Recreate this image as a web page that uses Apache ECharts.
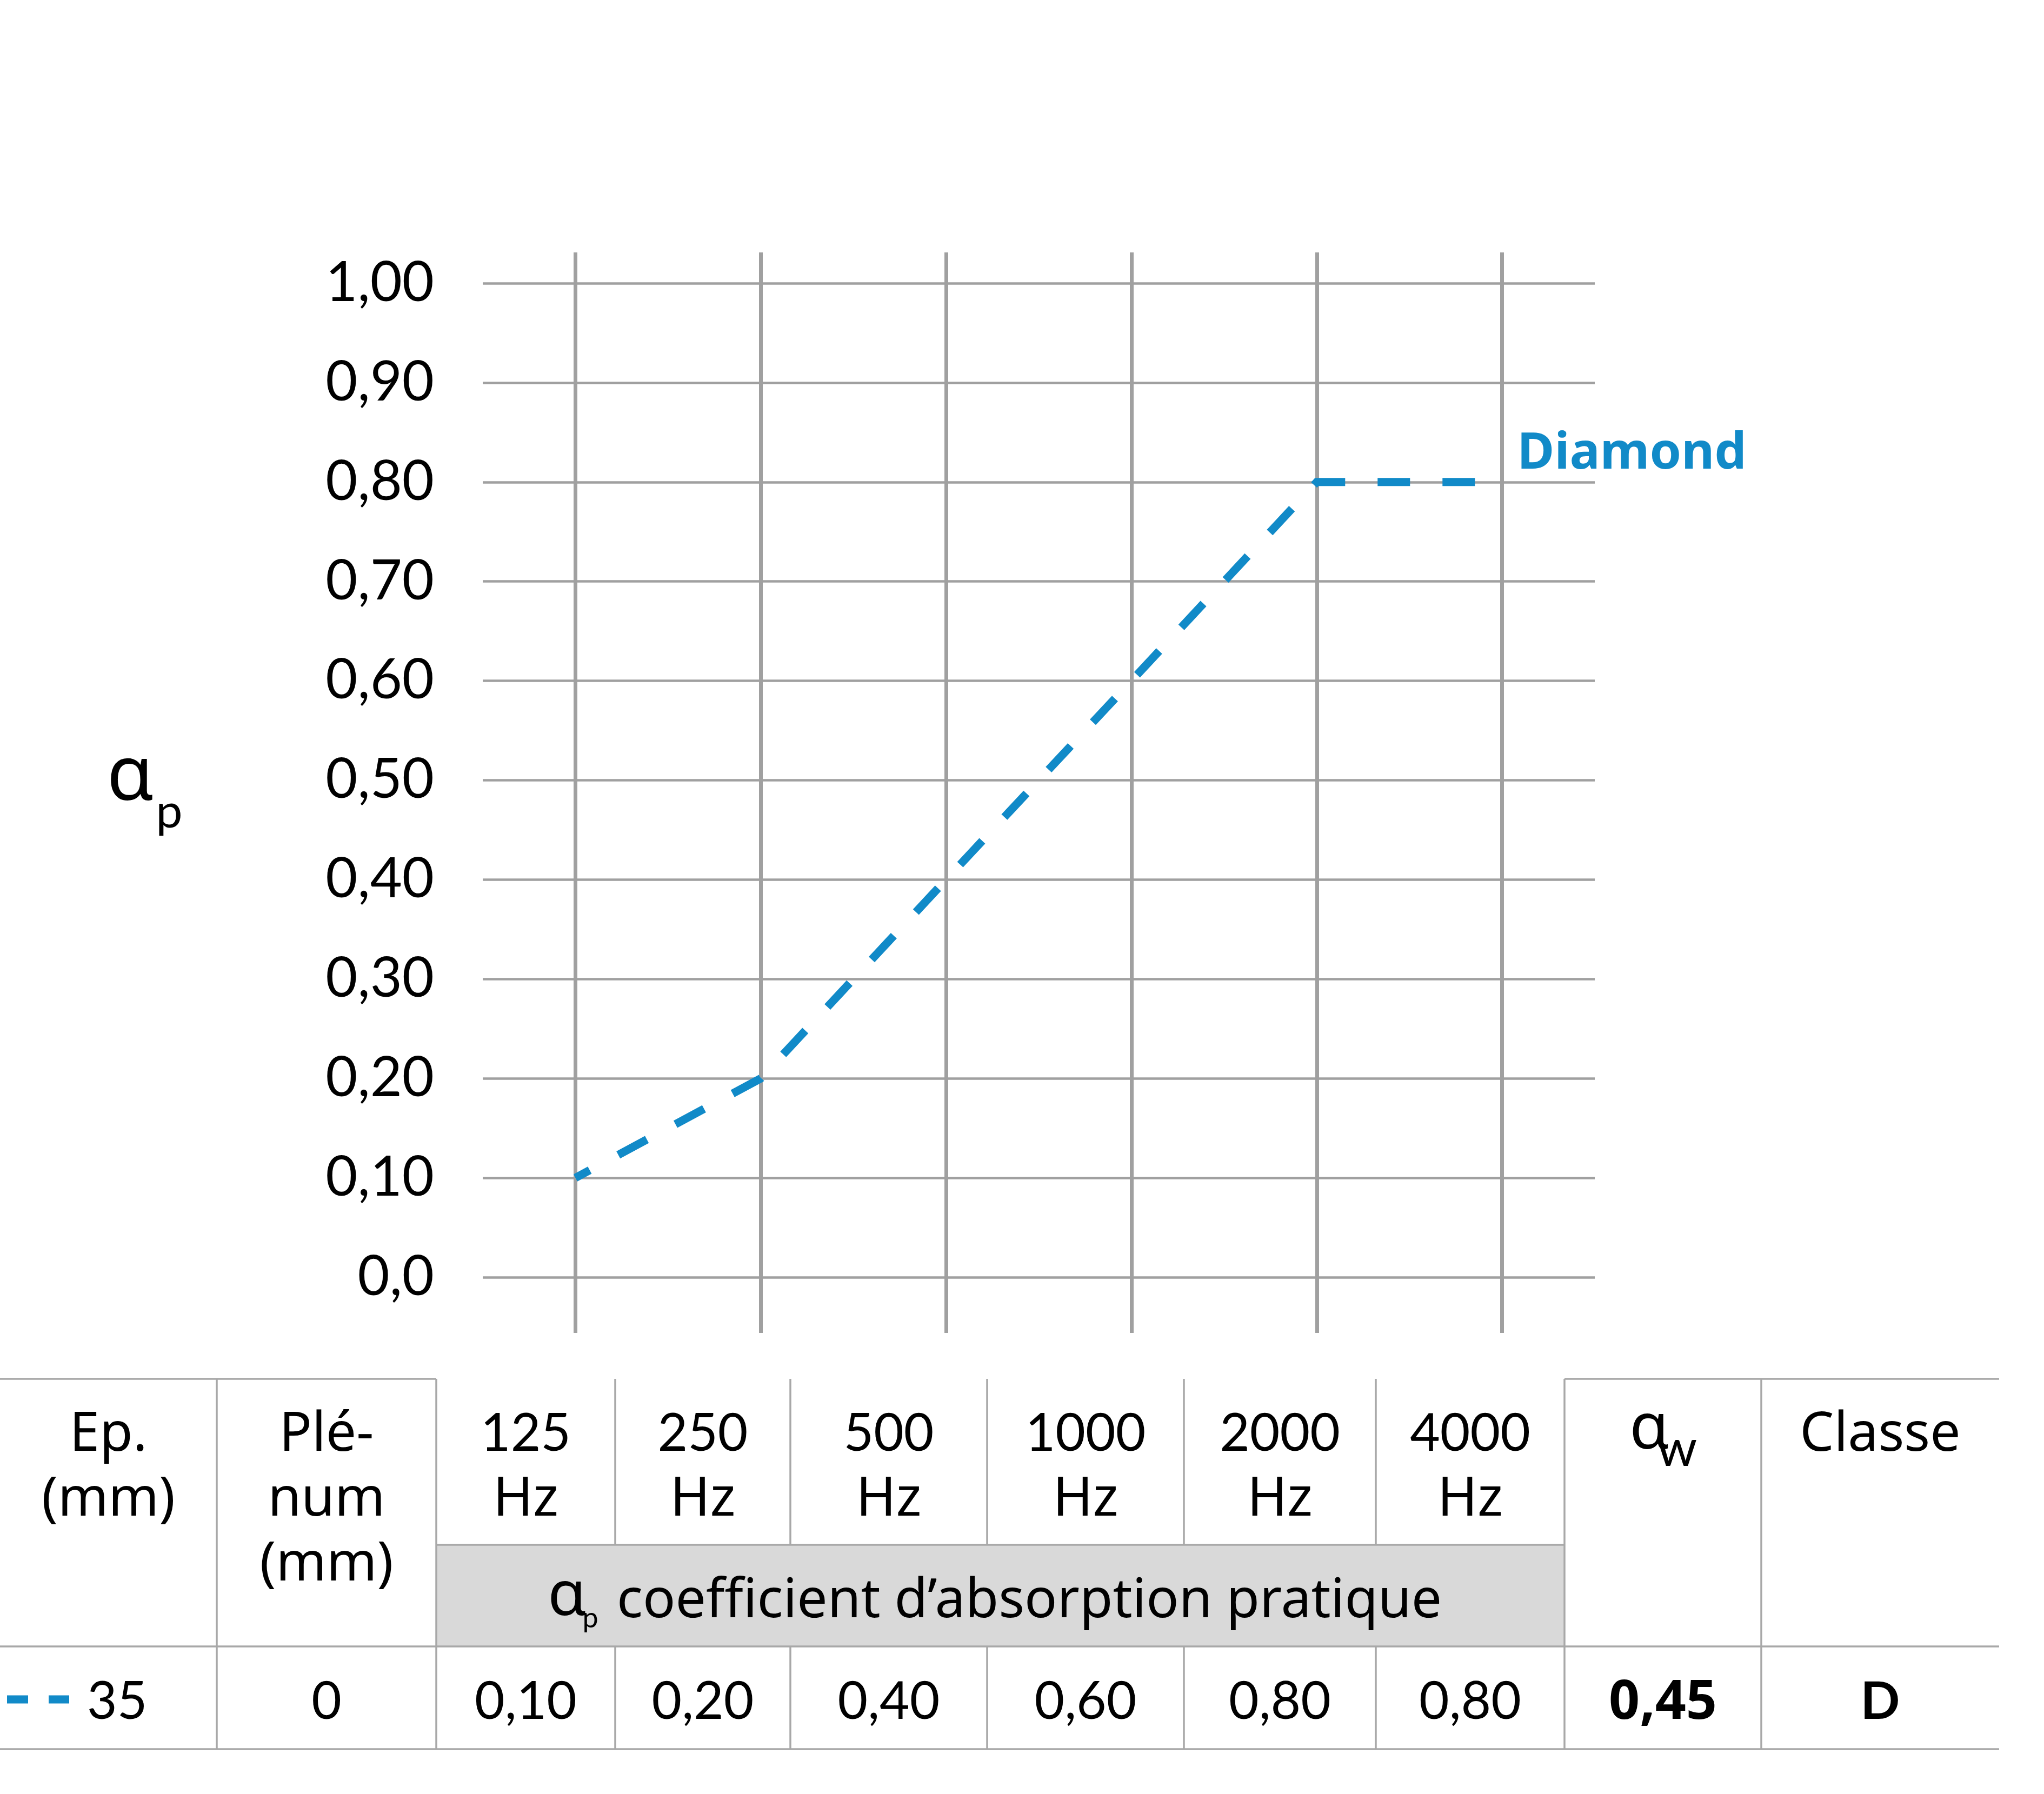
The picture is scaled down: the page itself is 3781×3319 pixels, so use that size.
<!DOCTYPE html>
<html><head><meta charset="utf-8">
<script src="https://cdn.jsdelivr.net/npm/echarts@6/dist/echarts.min.js"></script>
<style>html,body{margin:0;padding:0;background:#fff}#chart{width:3781px;height:3319px}</style>
</head><body><div id="chart"></div>
<script>
// ---------- data ----------
const frequencies = ['125', '250', '500', '1000', '2000', '4000'];
const absorption = [0.10, 0.20, 0.40, 0.60, 0.80, 0.80];
const seriesName = 'Diamond';
const yTickLabels = ['0,0', '0,10', '0,20', '0,30', '0,40', '0,50', '0,60', '0,70', '0,80', '0,90', '1,00'];
const headerEp = ['Ep.', '(mm)'];
const headerPlenum = ['Plé-', 'num', '(mm)'];
const freqUnit = 'Hz';
const bandLabel = 'coefficient d’absorption pratique';
const headerClass = 'Classe';
const thicknessMm = 35;
const plenumMm = 0;
const alphaW = 0.45;
const absorptionClass = 'D';

// ---------- style / layout ----------
const BLUE = '#118ac8';
const GRID_C = '#a0a0a0';
const TABLE_C = '#a8a8a8';
const BAND_C = '#d9d9d9';
const DIGITS = 'Lato';
const WORDS = 'Noto Sans';
const GREEK = 'Noto Sans';
const fmt = v => v.toFixed(2).replace('.', ',');

const colX = [0, 401, 807, 1138, 1462, 1826, 2190, 2545, 2894, 3258, 3698];
const rowTop = 2551, bandTop = 2858, bandBottom = 3046, rowBottom = 3236;
// cap-centre targets
const L1 = 2649, L2 = 2769, L3 = 2889, BANDY = 2957, ROWY = 3145;
const DFS = 96, WFS = 100;

const els = [];
function txt(x, y, text, opts) {
  opts = opts || {};
  els.push({
    type: 'text', x: x, y: y, z: 100, silent: true,
    style: {
      text: text, fill: opts.fill || '#000',
      fontSize: opts.size, fontFamily: opts.family,
      fontWeight: opts.weight || 'normal',
      align: opts.align || 'center', verticalAlign: 'middle'
    }
  });
}
const digit = (x, y, t, o) => txt(x, y + 4, t, Object.assign({ family: DIGITS, size: DFS }, o || {}));
const word = (x, y, t, o) => txt(x, y + 7, t, Object.assign({ family: WORDS, size: WFS }, o || {}));
function ln(x1, y1, x2, y2) {
  els.push({ type: 'line', z: 90, silent: true, shape: { x1, y1, x2, y2 },
    style: { stroke: TABLE_C, lineWidth: 3.5 } });
}
const mid = i => (colX[i] + colX[i + 1]) / 2;

// gray band
els.push({ type: 'rect', z: 80, silent: true,
  shape: { x: colX[2], y: bandTop, width: colX[8] - colX[2], height: bandBottom - bandTop },
  style: { fill: BAND_C } });

// horizontal table lines
ln(colX[0], rowTop, colX[2], rowTop);
ln(colX[8], rowTop, colX[10], rowTop);
ln(colX[2], bandTop, colX[8], bandTop);
ln(colX[0], bandBottom, colX[10], bandBottom);
ln(colX[0], rowBottom, colX[10], rowBottom);
// vertical table lines
[1, 2, 8, 9].forEach(i => ln(colX[i], rowTop, colX[i], rowBottom));
[3, 4, 5, 6, 7].forEach(i => { ln(colX[i], rowTop, colX[i], bandTop); ln(colX[i], bandBottom, colX[i], rowBottom); });

// headers
word(mid(0), L1, headerEp[0]);
word(mid(0), L2, headerEp[1]);
word(mid(1), L1, headerPlenum[0]);
word(mid(1), L2, headerPlenum[1]);
word(mid(1), L3, headerPlenum[2]);
frequencies.forEach((f, i) => {
  digit(mid(i + 2), L1, f);
  word(mid(i + 2), L2, freqUnit);
});
txt(3051, 2646, 'α', { family: GREEK, size: 118 });
txt(3102, 2681, 'w', { family: DIGITS, size: 95 });
word(mid(9), L1, headerClass);

// band label
txt(1049, 2955, 'α', { family: GREEK, size: 115 });
txt(1092, 2994, 'p', { family: DIGITS, size: 52 });
word(1141, BANDY, bandLabel, { align: 'left' });

// data row
els.push({ type: 'line', z: 100, silent: true, shape: { x1: 13, y1: ROWY - 1, x2: 128, y2: ROWY - 1 },
  style: { stroke: BLUE, lineWidth: 15, lineDash: [39, 38] } });
digit(161, ROWY, String(thicknessMm), { align: 'left' });
digit(mid(1), ROWY, String(plenumMm));
absorption.forEach((v, i) => digit(mid(i + 2), ROWY, fmt(v)));
txt(mid(8), ROWY + 7, fmt(alphaW), { family: WORDS, size: 100, weight: 'bold' });
digit(mid(9), ROWY, absorptionClass, { weight: 'bold' });

// y-axis name
txt(241, 1440, 'α', { family: GREEK, size: 140 });
txt(313, 1503, 'p', { family: DIGITS, size: 88 });

const chart = echarts.init(document.getElementById('chart'), null, { renderer: 'canvas' });
chart.setOption({
  animation: false,
  backgroundColor: '#fff',
  grid: [
    { left: 893, right: 831, top: 524, bottom: 956, containLabel: false },
    { left: 893, right: 831, top: 467, bottom: 853, containLabel: false }
  ],
  xAxis: [
    { gridIndex: 0, type: 'category', data: frequencies, boundaryGap: true, show: false },
    { gridIndex: 1, type: 'category', data: frequencies, boundaryGap: true,
      axisLine: { show: false }, axisLabel: { show: false, interval: 0 },
      axisTick: { show: true, interval: 0, alignWithLabel: true, inside: true, length: 1999,
        lineStyle: { color: GRID_C, width: 7 } },
      splitLine: { show: false } }
  ],
  yAxis: [
    { gridIndex: 0, type: 'value', min: 0, max: 1, interval: 0.1,
      axisLine: { show: false }, axisTick: { show: false },
      axisLabel: { margin: 90, fontSize: 102, fontFamily: DIGITS, color: '#000',
        padding: [20, 0, 0, 0],
        formatter: v => yTickLabels[Math.round(v * 10)] },
      splitLine: { show: true, lineStyle: { color: GRID_C, width: 4.5 } } },
    { gridIndex: 1, type: 'value', show: false, min: 0, max: 1 }
  ],
  series: [{
    name: seriesName, type: 'line', xAxisIndex: 0, yAxisIndex: 0,
    data: absorption, showSymbol: false, silent: true, z: 5,
    lineStyle: { color: BLUE, width: 15, type: [60, 60], dashOffset: 30, cap: 'butt', join: 'miter' },
    endLabel: { show: true, formatter: seriesName, color: BLUE, fontSize: 94, fontWeight: 'bold',
      fontFamily: WORDS, distance: 28, offset: [0, -52] }
  }],
  graphic: { elements: els }
});
</script></body></html>
